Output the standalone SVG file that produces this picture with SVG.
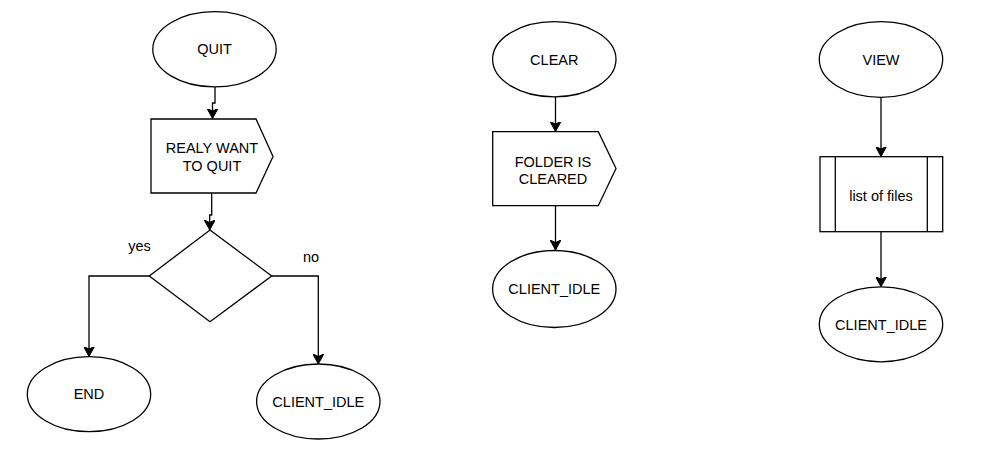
<svg xmlns="http://www.w3.org/2000/svg" width="995" height="474" viewBox="0 0 995 474">
  <style>
    .shape { fill: #ffffff; stroke: #000000; stroke-width: 1.3; }
    .edge { fill: none; stroke: #000000; stroke-width: 1.3; marker-end: url(#arrow); }
    .label { font-family: "Liberation Sans", Arial, sans-serif; font-size: 14.5px; fill: #000000; text-anchor: middle; dominant-baseline: central; }
  </style>
  <defs>
    <marker id="arrow" viewBox="0 0 10 11" refX="10" refY="5.5" markerWidth="10" markerHeight="11" markerUnits="userSpaceOnUse" orient="auto">
      <path d="M0,0 L10,5.5 L0,11 L2.5,5.5 Z" fill="#000000" stroke="#000000" stroke-width="1"/>
    </marker>
  </defs>
  <rect width="995" height="474" fill="#ffffff"/>

  <!-- connectors -->
  <g id="connectors">
    <path class="edge" d="M215,87 V103 H212.5 V118.5"/>
    <path class="edge" d="M211.7,193 V215 H209.7 V230"/>
    <path class="edge" d="M149.3,276 H89 V356.5"/>
    <path class="edge" d="M271.7,276 H318.3 V364"/>
    <path class="edge" d="M555.5,97 V131.5"/>
    <path class="edge" d="M555.5,205.7 V250"/>
    <path class="edge" d="M881,97.3 V156.5"/>
    <path class="edge" d="M881,231.7 V286.7"/>
    <text class="label" x="139.5" y="246">yes</text>
    <text class="label" x="311" y="257">no</text>
  </g>

  <!-- QUIT column -->
  <g id="quit">
    <ellipse class="shape" cx="214.5" cy="49.3" rx="61.7" ry="37.6"/>
    <text class="label" x="214.5" y="49.3">QUIT</text>
  </g>
  <g id="really-want-to-quit">
    <path class="shape" d="M151,119 H256 L273,156.5 L256,193 H151 Z"/>
    <text class="label" x="212" y="148">REALY WANT</text>
    <text class="label" x="212" y="166">TO QUIT</text>
  </g>
  <g id="decision">
    <path class="shape" d="M210,230 L271.7,276 L210,321.7 L149.3,276 Z"/>
  </g>
  <g id="end">
    <ellipse class="shape" cx="89" cy="394.2" rx="61.7" ry="37.5"/>
    <text class="label" x="89" y="394.2">END</text>
  </g>
  <g id="client-idle-1">
    <ellipse class="shape" cx="318.3" cy="401.5" rx="61.7" ry="37.5"/>
    <text class="label" x="318.3" y="402">CLIENT_IDLE</text>
  </g>

  <!-- CLEAR column -->
  <g id="clear">
    <ellipse class="shape" cx="554.3" cy="59.3" rx="61.7" ry="37.6"/>
    <text class="label" x="554.3" y="59.5">CLEAR</text>
  </g>
  <g id="folder-cleared">
    <path class="shape" d="M492.7,131.7 H598.3 L616,168.5 L598.3,205.7 H492.7 Z"/>
    <text class="label" x="553" y="161.5">FOLDER IS</text>
    <text class="label" x="553" y="179">CLEARED</text>
  </g>
  <g id="client-idle-2">
    <ellipse class="shape" cx="554.3" cy="289" rx="61.7" ry="38.5"/>
    <text class="label" x="554.3" y="289">CLIENT_IDLE</text>
  </g>

  <!-- VIEW column -->
  <g id="view">
    <ellipse class="shape" cx="881" cy="59.5" rx="61.7" ry="37.8"/>
    <text class="label" x="881" y="59.5">VIEW</text>
  </g>
  <g id="list-of-files">
    <rect class="shape" x="820" y="156.7" width="122.7" height="75"/>
    <line class="shape" x1="835.3" y1="156.7" x2="835.3" y2="231.7"/>
    <line class="shape" x1="927.3" y1="156.7" x2="927.3" y2="231.7"/>
    <text class="label" x="881" y="196">list of files</text>
  </g>
  <g id="client-idle-3">
    <ellipse class="shape" cx="881" cy="324.3" rx="61.7" ry="37.5"/>
    <text class="label" x="881" y="325">CLIENT_IDLE</text>
  </g>
</svg>
